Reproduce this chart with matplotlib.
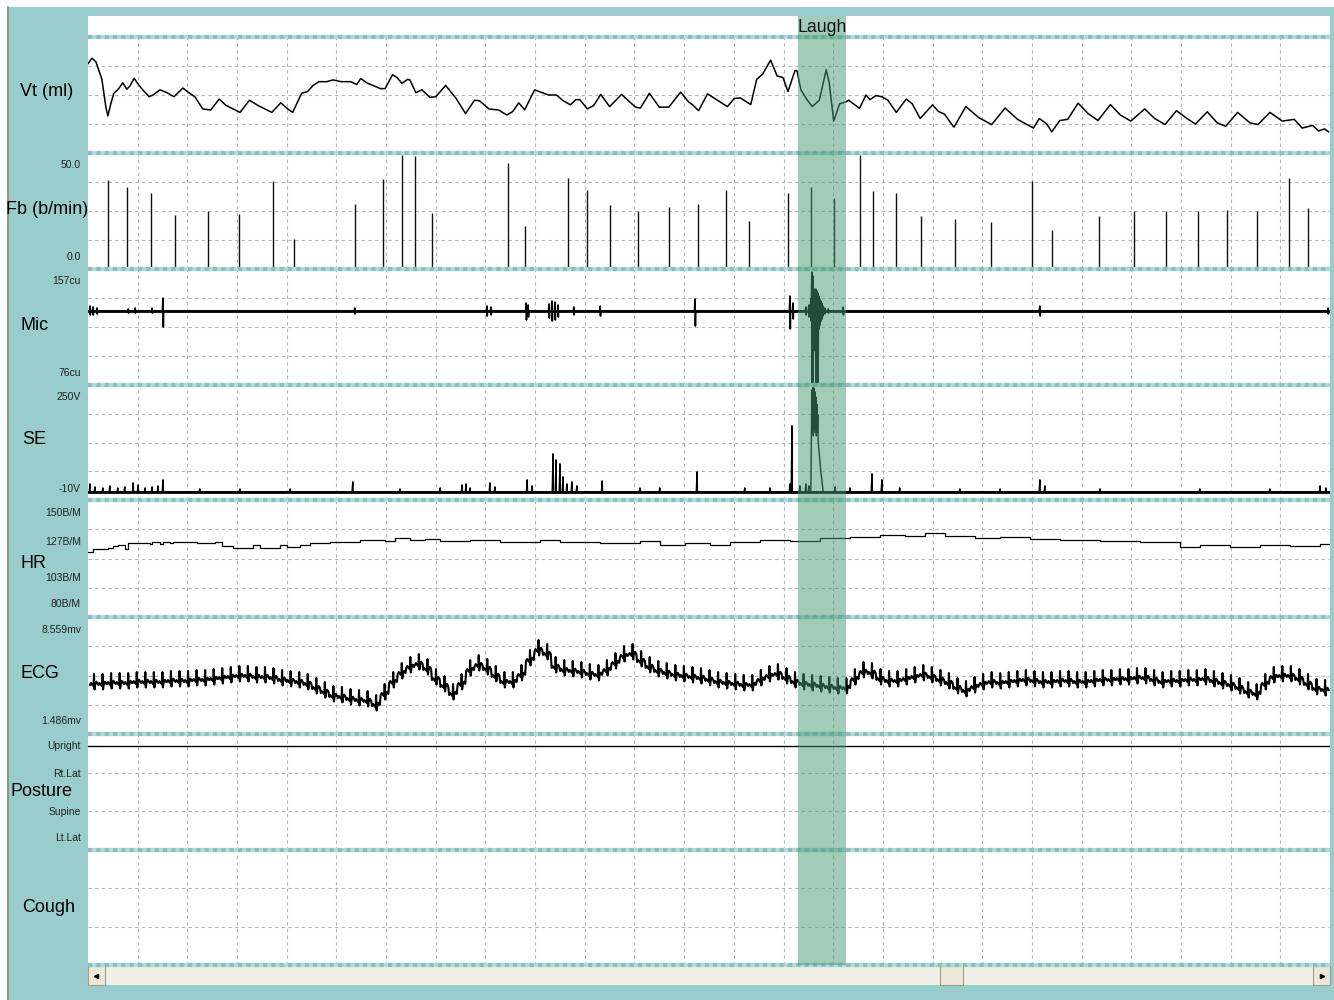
import matplotlib
import matplotlib.pyplot as plt
from matplotlib.patches import Rectangle
import numpy as np

matplotlib.rcParams['font.family'] = ['Liberation Sans', 'DejaVu Sans']

W, H = 1334, 1000
TEAL = '#99cccc'
GRID = '#b4b4b4'

# ---- data (time axis: 25 grid columns) ----
t_end = 25.0
laugh_start, laugh_end = 14.29, 15.26

vt_t = [0.00, 0.08, 0.16, 0.28, 0.36, 0.40, 0.46, 0.52, 0.60, 0.70, 0.78, 0.84, 0.93, 0.99,
        1.07, 1.23, 1.31, 1.45, 1.59, 1.73, 1.91, 2.03, 2.15, 2.31, 2.47, 2.64, 2.78, 3.06,
        3.25, 3.42, 3.70, 3.88, 4.02, 4.12, 4.30, 4.42, 4.53, 4.65, 4.81, 4.93, 5.09, 5.29,
        5.41, 5.49, 5.61, 5.89, 5.98, 6.13, 6.22, 6.32, 6.43, 6.48, 6.60, 6.72, 6.88, 7.00,
        7.20, 7.41, 7.60, 7.78, 7.88, 8.07, 8.27, 8.43, 8.55, 8.67, 8.79, 8.99, 9.11, 9.27,
        9.43, 9.55, 9.71, 9.82, 9.90, 10.05, 10.18, 10.32, 10.50, 10.74, 11.02, 11.12, 11.30,
        11.50, 11.69, 11.93, 12.09, 12.17, 12.29, 12.47, 12.65, 12.87, 13.01, 13.13, 13.34,
        13.46, 13.58, 13.74, 13.87, 13.99, 14.09, 14.23, 14.27, 14.35, 14.48, 14.58, 14.72,
        14.86, 14.92, 15.01, 15.13, 15.25, 15.31, 15.53, 15.66, 15.74, 15.86, 15.98, 16.10,
        16.27, 16.47, 16.59, 16.75, 17.00, 17.12, 17.24, 17.43, 17.67, 17.93, 18.19, 18.46,
        18.71, 19.03, 19.15, 19.30, 19.40, 19.56, 19.72, 19.93, 20.13, 20.33, 20.58, 20.78,
        20.99, 21.27, 21.47, 21.68, 21.91, 22.12, 22.29, 22.53, 22.73, 22.90, 23.14, 23.39,
        23.55, 23.79, 24.04, 24.28, 24.44, 24.65, 24.77, 24.89, 24.97]
vt_ml = [308, 327, 314, 254, 158, 128, 170, 206, 218, 242, 220, 230, 258, 242,
         224, 194, 200, 218, 208, 194, 224, 208, 194, 152, 148, 186, 164, 140,
         182, 164, 140, 173, 152, 140, 206, 212, 233, 246, 246, 252, 246, 246,
         236, 257, 242, 222, 222, 270, 260, 240, 254, 252, 208, 218, 192, 194,
         233, 188, 136, 182, 180, 152, 148, 131, 143, 173, 149, 218, 210, 200,
         200, 182, 166, 184, 184, 152, 164, 202, 160, 202, 158, 155, 206,
         158, 158, 210, 176, 166, 146, 204, 184, 160, 188, 190, 167,
         254, 272, 320, 266, 260, 212, 284, 284, 218, 182, 160, 182,
         287, 242, 110, 170, 176, 182, 154, 200, 184, 198, 194, 182,
         140, 186, 170, 119, 166, 143, 134, 89, 160, 122, 98, 155,
         116, 86, 119, 100, 73, 112, 116, 172, 136, 112, 167, 131,
         110, 152, 119, 98, 146, 119, 100, 142, 104, 92, 140, 104,
         98, 140, 110, 116, 86, 95, 76, 83, 73]

fb_t = [0.40, 0.79, 1.27, 1.75, 2.42, 3.04, 3.72, 4.15, 5.37, 5.94, 6.32, 6.58, 6.92, 8.45,
        8.80, 9.66, 10.04, 10.51, 11.07, 11.69, 12.28, 12.84, 13.31, 14.09, 14.55, 15.02,
        15.54, 15.80, 16.26, 16.77, 17.45, 18.18, 19.00, 19.40, 20.35, 21.05, 21.70, 22.34,
        22.93, 23.53, 24.17, 24.56]
fb_bpm = [42.2, 38.9, 36.0, 25.6, 27.5, 26.1, 41.7, 14.2, 30.8, 42.7, 54.0, 53.6, 26.5, 50.2,
          20.4, 43.1, 37.4, 30.3, 27.5, 29.4, 30.8, 37.4, 22.8, 36.0, 38.9, 33.7,
          54.0, 37.0, 36.0, 25.1, 23.7, 22.3, 41.7, 18.5, 25.1, 27.5, 27.5, 27.5,
          28.0, 27.5, 43.1, 28.9]

mic_base = 130.6
mic_t = [0.04, 0.10, 0.18, 0.81, 0.95, 1.29, 1.51, 5.37, 8.03, 8.11, 8.82, 8.86, 9.28, 9.34,
         9.40, 9.46, 9.78, 10.31, 12.22, 14.13, 14.19, 14.45, 14.51, 14.55, 14.57, 14.59,
         14.61, 14.63, 14.65, 14.67, 14.69, 14.71, 14.73, 14.75, 14.77, 14.79, 14.83, 14.90,
         15.20, 19.16, 24.96]
mic_up = [4.4, 3.5, 2.6, 1.8, 2.6, 2.6, 11.4, 2.6, 4.4, 3.5, 7.0, 5.3, 6.2, 8.8,
          7.9, 5.3, 3.5, 4.4, 10.6, 13.2, 7.0, 3.5, 5.3, 10.6, 34.3, 30.8,
          19.4, 17.6, 19.4, 17.6, 15.8, 13.2, 10.6, 8.8, 7.0, 4.4, 2.6, 1.8,
          3.5, 4.4, 2.6]
mic_dn = [3.5, 3.5, 2.6, 1.8, 1.8, 1.8, 14.1, 2.6, 4.4, 3.5, 7.9, 5.3, 6.2, 8.8,
          7.9, 5.3, 3.5, 4.4, 13.2, 15.8, 7.0, 3.5, 5.3, 8.8, 63.4, 65.1,
          26.4, 35.2, 65.1, 22.0, 65.1, 15.8, 12.3, 8.8, 7.0, 4.4, 2.6, 1.8,
          3.5, 4.4, 2.6]

se_base = -18.0
se_t = [0.04, 0.14, 0.30, 0.44, 0.60, 0.74, 0.91, 1.01, 1.15, 1.29, 1.41, 1.51, 2.25, 3.06,
        4.07, 5.33, 6.28, 7.09, 7.53, 7.61, 7.69, 8.09, 8.19, 8.84, 8.94, 9.36, 9.42, 9.50,
        9.56, 9.64, 9.74, 9.84, 10.35, 11.11, 11.51, 12.26, 13.22, 13.73, 14.13, 14.17,
        14.33, 14.45, 14.51, 15.04, 15.34, 15.78, 15.98, 16.34, 17.55, 18.36, 19.16, 19.26,
        20.37, 22.38, 23.79, 24.80, 24.92]
se_v = [22.6, 14.2, 11.3, 17.0, 11.3, 14.2, 25.5, 19.8, 11.3, 14.2, 17.0, 34.0, 8.5, 8.5,
        8.5, 28.3, 8.5, 11.3, 19.8, 22.6, 11.3, 25.5, 14.2, 34.0, 17.0, 107.5, 90.6, 79.2,
        42.5, 22.6, 28.3, 17.0, 31.1, 11.3, 11.3, 56.6, 11.3, 11.3, 22.6, 186.8,
        17.0, 22.6, 17.0, 14.2, 11.3, 51.0, 34.0, 11.3, 8.5, 8.5, 34.0, 17.0,
        8.5, 8.5, 8.5, 17.0, 11.3]
# the laugh burst on SE, traced as a polyline
se_laugh_t = [14.55, 14.57, 14.58, 14.59, 14.60, 14.61, 14.62, 14.63, 14.64, 14.65, 14.66,
              14.67, 14.68, 14.69, 14.70, 14.72, 14.75, 14.78, 14.80]
se_laugh_v = [-18, 270, 150, 280, 140, 275, 160, 265, 150, 250, 140, 230, 150, 200, 120,
              90, 40, 5, -18]

hr_t = [0.00, 0.10, 0.40, 0.50, 0.60, 0.74, 0.81, 1.25, 1.29, 1.45, 1.51, 1.65, 1.71, 2.19,
        2.56, 2.70, 2.92, 3.32, 3.46, 3.86, 4.01, 4.27, 4.47, 4.87, 5.48, 5.98, 6.18, 6.48,
        6.78, 7.09, 7.69, 8.29, 9.10, 9.50, 10.31, 11.11, 11.51, 12.02, 12.52, 12.92, 13.53,
        14.13, 14.73, 15.34, 15.94, 16.45, 16.85, 17.25, 17.85, 18.36, 18.96, 19.57, 20.37,
        21.18, 21.98, 22.38, 22.99, 23.59, 24.19, 24.80]
hr_bpm = [120.2, 122.3, 122.8, 124.8, 125.4, 122.3, 126.7, 126.1, 127.4, 126.1, 127.9, 126.9,
          127.4, 126.7, 127.9, 124.8, 123.3, 125.4, 122.8, 125.4, 124.1, 125.4, 126.9, 127.7,
          129.2, 128.4, 130.8, 129.2, 130.0, 128.4, 129.2, 127.7, 129.2, 127.7, 126.9, 128.4,
          125.4, 126.9, 125.4, 127.7, 129.2, 128.4, 130.8, 131.5, 133.1, 132.3, 134.6, 132.3,
          130.8, 131.5, 130.0, 129.2, 128.4, 127.7, 123.8, 125.4, 123.8, 125.4, 124.6, 126.1]

# ECG baseline level at each beat (mV), beats are evenly spaced
ecg_base = [4.29, 4.29, 4.36, 4.36, 4.36, 4.44, 4.44, 4.44, 4.44, 4.52,
            4.52, 4.52, 4.60, 4.60, 4.67, 4.75, 4.83, 4.91, 4.91, 4.83,
            4.83, 4.75, 4.60, 4.52, 4.44, 4.29, 3.97, 3.66, 3.35, 3.28,
            3.12, 3.04, 2.96, 2.65, 3.51, 4.44, 5.14, 5.61, 5.84, 5.45,
            4.67, 4.13, 3.51, 4.29, 5.37, 5.76, 5.45, 4.91, 4.44, 4.44,
            4.99, 6.15, 6.93, 6.62, 5.61, 5.37, 5.30, 5.22, 5.06, 4.99,
            5.37, 5.92, 6.46, 6.62, 6.07, 5.61, 5.30, 5.14, 4.99, 4.91,
            4.83, 4.75, 4.60, 4.44, 4.36, 4.29, 4.21, 4.21, 4.60, 4.91,
            5.06, 4.75, 4.44, 4.29, 4.21, 4.13, 4.05, 3.97, 3.97, 4.67,
            5.22, 5.14, 4.67, 4.52, 4.52, 4.67, 4.83, 4.99, 4.83, 4.60,
            4.36, 3.97, 3.74, 4.05, 4.29, 4.44, 4.36, 4.44, 4.52, 4.60,
            4.52, 4.44, 4.44, 4.52, 4.52, 4.44, 4.44, 4.52, 4.60, 4.60,
            4.67, 4.67, 4.75, 4.75, 4.60, 4.44, 4.52, 4.52, 4.60, 4.60,
            4.67, 4.52, 4.36, 4.21, 3.97, 3.66, 3.51, 4.29, 4.83, 4.91,
            4.91, 4.67, 4.29, 3.90, 3.82]

posture_levels = ['Upright', 'Rt.Lat', 'Supine', 'Lt.Lat']
posture_t = [0.0, 25.0]
posture = ['Upright', 'Upright']

# ---- layout (pixels of the 1334x1000 canvas) ----
PX0, PX1 = 88, 1330
panels = [  # name, top, bottom, label x, rows
    ('Vt (ml)', 37, 153, 20, 4),
    ('Fb (b/min)', 153, 269, 6, 4),
    ('Mic', 269, 385, 20, 4),
    ('SE', 385, 500, 22, 4),
    ('HR', 500, 617, 20, 4),
    ('ECG', 617, 734, 20, 4),
    ('Posture', 734, 850, 11, 3),
    ('Cough', 850, 965, 22, 3),
]
label_y = [91, 210, 326, 439, 564, 673, 792, 907]
ticks = {
    'Fb (b/min)': [('50.0', 165), ('0.0', 257)],
    'Mic': [('157cu', 281), ('76cu', 373)],
    'SE': [('250V', 397), ('-10V', 489)],
    'HR': [('150B/M', 513), ('127B/M', 542), ('103B/M', 578), ('80B/M', 604)],
    'ECG': [('8.559mv', 630), ('1.486mv', 721)],
    'Posture': [('Upright', 746), ('Rt.Lat', 774), ('Supine', 812), ('Lt.Lat', 838)],
}
posture_y = [0.9, 0.655, 0.33, 0.1]


def px_axes(fig, x0, y0, x1, y1):
    return fig.add_axes([x0 / W, 1 - y1 / H, (x1 - x0) / W, (y1 - y0) / H])


def spike_path(t, up, dn, base, w):
    xs, ys = [0.0], [base]
    for ti, u, d in sorted(zip(t, up, dn)):
        xs += [ti - w, ti, ti + w * 0.5, ti + w]
        ys += [base, base + u, base - d, base]
    xs.append(t_end)
    ys.append(base)
    return xs, ys


fig = plt.figure(figsize=(W / 100, H / 100), dpi=100)

# background window chrome
bg = fig.add_axes([0, 0, 1, 1])
bg.set_xlim(0, W)
bg.set_ylim(H, 0)
bg.axis('off')
bg.set_zorder(0)
bg.add_patch(Rectangle((7, 7), W - 7, H - 7, color=TEAL, lw=0))
bg.plot([7.5, 7.5], [7, H], color='#8c8c7a', lw=1.2)
bg.add_patch(Rectangle((PX0, 16), PX1 - PX0, 21, color='white', lw=0))
# scrollbar
bg.add_patch(Rectangle((PX0, 966), PX1 - PX0, 19, color='#f2f0e6', lw=0))
for bx in (PX0, PX1 - 17):
    bg.add_patch(Rectangle((bx, 966), 17, 19, facecolor='#ece9d8', edgecolor='#a09e90', lw=0.8))
bg.add_patch(Rectangle((940, 966), 23, 19, facecolor='#ece9d8', edgecolor='#a09e90', lw=0.8))
bg.plot([PX0 + 8], [975.5], marker='<', color='black', ms=3)
bg.plot([PX1 - 8.5], [975.5], marker='>', color='black', ms=3)

# labels are drawn on a layer above the panels so nothing gets clipped
lab = fig.add_axes([0, 0, 1, 1])
lab.set_xlim(0, W)
lab.set_ylim(H, 0)
lab.axis('off')
lab.set_zorder(4)
lab.patch.set_alpha(0)
for (name, top, bot, lx, rows), ly in zip(panels, label_y):
    lab.text(lx, ly, name, fontsize=13, va='center', ha='left', color='black')
    for txt, ty in ticks.get(name, []):
        lab.text(81, ty, txt, fontsize=7.5, va='center', ha='right', color='#222222')

# panels
axes = {}
for name, top, bot, lx, rows in panels:
    ax = px_axes(fig, PX0, top, PX1, bot)
    ax.set_zorder(1)
    ax.set_xlim(0, t_end)
    for s in ax.spines.values():
        s.set_visible(False)
    ax.set_xticks([])
    ax.set_yticks([])
    for c in range(1, 25):
        ax.axvline(c, color=GRID, lw=0.8, ls=(0, (3, 3)), zorder=0)
    for r in range(1, rows):
        ax.plot([0, 1], [r / rows, r / rows], transform=ax.transAxes,
                color=GRID, lw=0.8, ls=(0, (3, 3)), zorder=0)
    axes[name] = ax

ax = axes['Vt (ml)']
ax.set_ylim(0, 400)
ax.plot(vt_t, vt_ml, color='black', lw=1.1, solid_joinstyle='round')

ax = axes['Fb (b/min)']
ax.set_ylim(0, 55)
ax.vlines(fb_t, 0, fb_bpm, color='#111111', lw=1.0)

ax = axes['Mic']
ax.set_ylim(65.4, 167.6)
mx, my = spike_path(mic_t, mic_up, mic_dn, mic_base, 0.012)
ax.plot(mx, my, color='black', lw=1.2)
ax.plot([0, t_end], [mic_base, mic_base], color='black', lw=2.0)

ax = axes['SE']
ax.set_ylim(-41, 284)
sx, sy = spike_path(se_t, se_v, [0] * len(se_t), se_base, 0.016)
ax.plot(sx, sy, color='black', lw=1.0)
ax.plot([0, t_end], [se_base, se_base], color='black', lw=2.0)
ax.plot(se_laugh_t, se_laugh_v, color='black', lw=1.0)

ax = axes['HR']
ax.set_ylim(70, 160)
ax.step(hr_t + [t_end], hr_bpm + [hr_bpm[-1]], where='post', color='black', lw=0.9)

ax = axes['ECG']
ax.set_ylim(0.476, 9.569)
beat_t = np.linspace(0.04, 24.82, len(ecg_base))
period = beat_t[1] - beat_t[0]
shape_ph = [0.0, 0.12, 0.28, 0.42, 0.47, 0.53, 0.6, 0.75, 0.9]
shape_mv = [0.0, 0.15, 0.0, -0.1, 0.85, -0.35, 0.0, 0.25, 0.08]
ex, ey = [], []
for bt, bv in zip(beat_t, ecg_base):
    ex += [bt + p * period for p in shape_ph]
    ey += [bv + m for m in shape_mv]
ax.plot(ex, ey, color='black', lw=1.5)

ax = axes['Posture']
ax.set_ylim(0, 1)
level_y = dict(zip(posture_levels, posture_y))
ax.plot(posture_t, [level_y[p] for p in posture], color='black', lw=1.0)

ax = axes['Cough']
ax.set_ylim(0, 1)

# panel separators
sep = fig.add_axes([0, 0, 1, 1])
sep.set_xlim(0, W)
sep.set_ylim(H, 0)
sep.axis('off')
sep.set_zorder(2)
sep.patch.set_alpha(0)
for y in [p[1] for p in panels] + [panels[-1][2]]:
    sep.plot([PX0, PX1], [y, y], color='#b3dada', lw=3.0, solid_capstyle='butt')
    sep.plot([PX0, PX1], [y, y], color='#86c0c0', lw=3.0, ls=(0, (1, 1)))

# laugh event band
band = px_axes(fig, PX0, 16, PX1, 965)
band.set_zorder(3)
band.patch.set_alpha(0)
band.axis('off')
band.set_xlim(0, t_end)
band.set_ylim(965, 16)
band.axvspan(laugh_start, laugh_end, color='#469b73', alpha=0.5, lw=0)
band.text((laugh_start + laugh_end) / 2, 27, 'Laugh', fontsize=12.8,
          ha='center', va='center', color='#111111')

plt.savefig('out.png', dpi=100)
